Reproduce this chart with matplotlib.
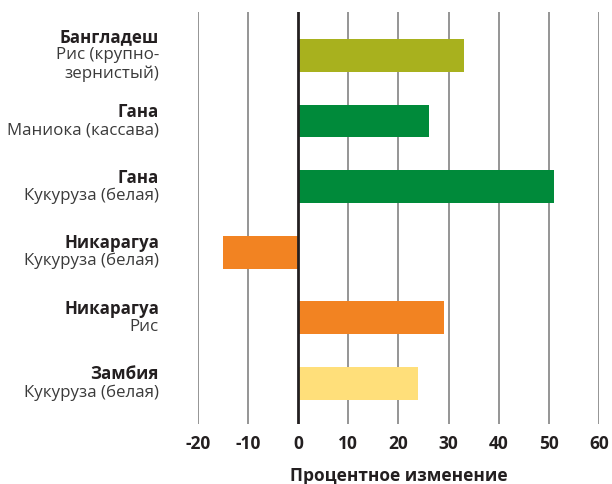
import matplotlib
matplotlib.use("Agg")
import matplotlib.pyplot as plt

countries = ["Бангладеш", "Гана", "Гана", "Никарагуа", "Никарагуа", "Замбия"]
products = [["Рис (крупно-", "зернистый)"], ["Маниока (кассава)"], ["Кукуруза (белая)"],
            ["Кукуруза (белая)"], ["Рис"], ["Кукуруза (белая)"]]
values = [33, 26, 51, -15, 29, 24]
colors = ["#a8b11e", "#008a3a", "#008a3a", "#f28322", "#f28322", "#ffdf7a"]
xticks = [-20, -10, 0, 10, 20, 30, 40, 50, 60]
xlabel = "Процентное изменение"

plt.rcParams['font.family'] = ['Open Sans', 'DejaVu Sans']
fig = plt.figure(figsize=(6.12, 4.84), dpi=100)
ax = fig.add_axes([0.323, 0.124, 0.656, 0.851])

ypos = list(range(len(values)))
for x in xticks:
    if x == 0:
        continue
    ax.axvline(x, color="#8c8c8c", lw=1.3, zorder=0)
ax.barh(ypos, values, height=0.5, color=colors, zorder=2)
ax.axvline(0, color="#231f20", lw=2, zorder=3)

ax.set_xlim(-20, 60)
ax.set_ylim(5.62, -0.66)
ax.set_xticks(xticks)
ax.set_xticklabels([str(x) for x in xticks], fontsize=12.5, fontweight="bold", color="#231f20")
ax.tick_params(axis="x", length=0, pad=8)
ax.set_yticks([])
for s in ax.spines.values():
    s.set_visible(False)
ax.set_xlabel(xlabel, fontsize=12.5, fontweight="bold", color="#231f20", labelpad=10)

lh = 13
for i, (c, p) in enumerate(zip(countries, products)):
    lines = [(c, "bold")] + [(t, "normal") for t in p]
    n = len(lines)
    for j, (t, w) in enumerate(lines):
        off = -(j - (n - 1) / 2) * lh
        ax.annotate(t, xy=(-0.0964, i), xycoords=("axes fraction", "data"),
                    xytext=(0, off), textcoords="offset points",
                    ha="right", va="center", fontsize=12.2, fontweight=w,
                    color="#231f20" if w == "bold" else "#3a3a3a", annotation_clip=False)

fig.savefig("out.png", dpi=100)
